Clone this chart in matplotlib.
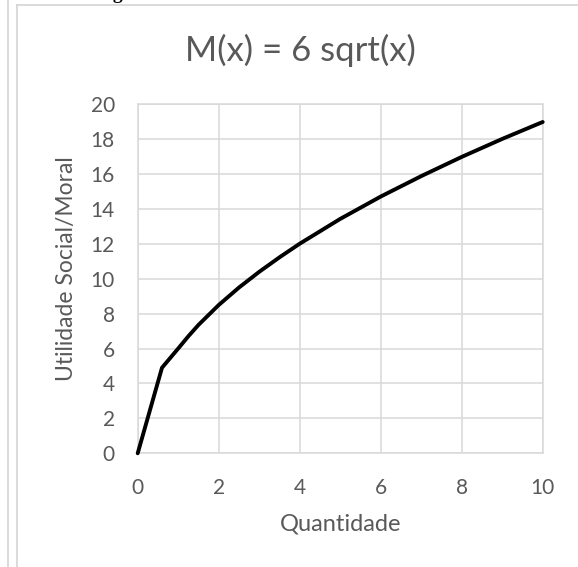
import matplotlib.pyplot as plt
from matplotlib.lines import Line2D

plt.rcParams['font.family'] = ['Lato', 'DejaVu Sans']

quantidade = [0, 0.6, 0.8, 1, 1.25, 1.5, 2, 2.5, 3, 3.5, 4, 5, 6, 7, 8, 9, 10]
utilidade = [0, 4.9, 5.45, 6.0, 6.7, 7.35, 8.49, 9.49, 10.39, 11.22, 12.0,
             13.42, 14.7, 15.87, 16.97, 18.0, 18.97]
xticks = [0, 2, 4, 6, 8, 10]
yticks = [0, 2, 4, 6, 8, 10, 12, 14, 16, 18, 20]

W, H = 578, 567
fig = plt.figure(figsize=(W / 100, H / 100), dpi=100)
ax = fig.add_axes([137.7 / W, 1 - 453.3 / H, (542.7 - 137.7) / W, (453.3 - 104) / H])

grid_color = '#d9d9d9'
text_color = '#595959'

ax.plot(quantidade, utilidade, color='black', linewidth=2.8,
        solid_joinstyle='round', solid_capstyle='round', zorder=3, clip_on=False)

ax.set_xlim(0, 10)
ax.set_ylim(0, 20)
ax.set_xticks(xticks)
ax.set_yticks(yticks)
ax.grid(True, color=grid_color, linewidth=1.1)
ax.set_axisbelow(True)
for s in ax.spines.values():
    s.set_color(grid_color)
    s.set_linewidth(1.1)
ax.tick_params(length=0, labelsize=15, labelcolor=text_color)
ax.tick_params(axis='x', pad=18)
ax.tick_params(axis='y', pad=16.5)

ax.set_xlabel('Quantidade', fontsize=17, color=text_color, va='center')
ax.xaxis.set_label_coords(0.5, -(524 - 453.3) / 349.3)
ax.set_ylabel('Utilidade Social/Moral', fontsize=16.5, color=text_color, va='center')
ax.yaxis.set_label_coords(-(137.7 - 67) / 405, (453.3 - 269) / 349.3)
fig.text(300 / W, 1 - 50 / H, 'M(x) = 6 sqrt(x)', fontsize=25, color=text_color,
         ha='center', va='center')

# bordas do documento / da moldura do gráfico
frame = '#d4d4d4'
fig.add_artist(Line2D([7.5 / W, 7.5 / W], [0, 1], color=frame, linewidth=1.2))
fig.add_artist(Line2D([17 / W, 17 / W], [0, 1 - 5 / H], color=frame, linewidth=1.2))
fig.add_artist(Line2D([17 / W, 1], [1 - 5 / H, 1 - 5 / H], color=frame, linewidth=1.2))

# texto cortado no topo (só a parte de baixo aparece)
fig.text(123 / W, 1 + 1 / H, 'ng', fontsize=14, fontweight='bold',
         family=['Liberation Serif'], ha='right', va='baseline', color='black')

fig.savefig('out.png', dpi=100)
